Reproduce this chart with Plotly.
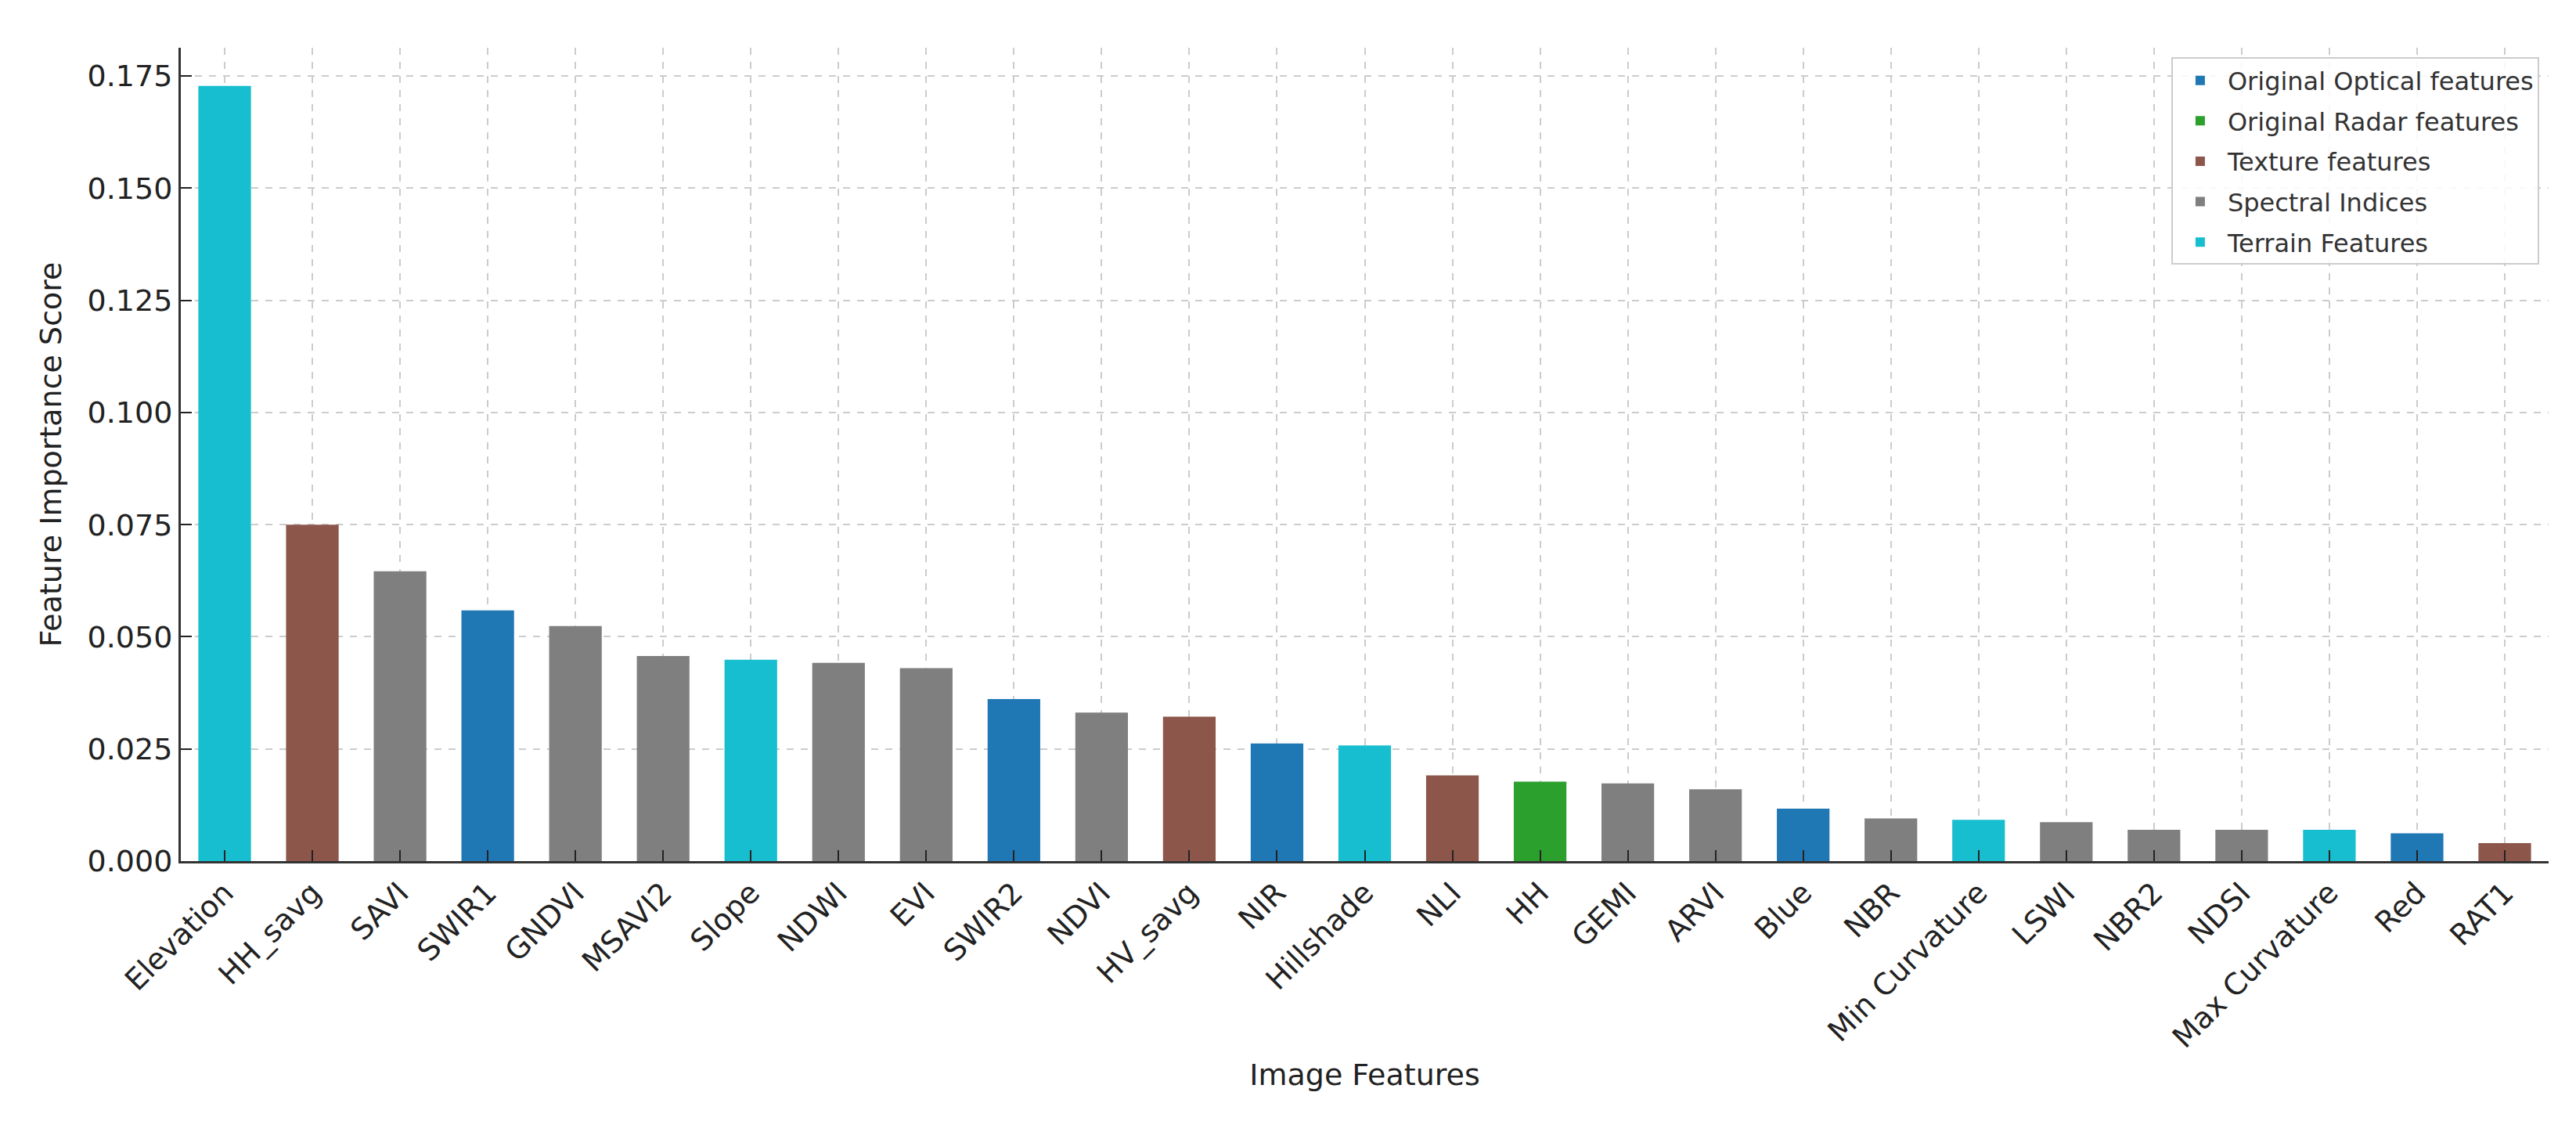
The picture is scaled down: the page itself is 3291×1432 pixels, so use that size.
import plotly.graph_objects as go

# feature importance values
features = ['Elevation', 'HH_savg', 'SAVI', 'SWIR1', 'GNDVI', 'MSAVI2', 'Slope', 'NDWI', 'EVI',
            'SWIR2', 'NDVI', 'HV_savg', 'NIR', 'Hillshade', 'NLI', 'HH', 'GEMI', 'ARVI', 'Blue',
            'NBR', 'Min Curvature', 'LSWI', 'NBR2', 'NDSI', 'Max Curvature', 'Red', 'RAT1']
importance = [0.1728, 0.0750, 0.0646, 0.0559, 0.0524, 0.0457, 0.0449, 0.0442, 0.0430,
              0.0361, 0.0331, 0.0322, 0.0262, 0.0258, 0.0191, 0.0177, 0.0173, 0.0160, 0.0117,
              0.0095, 0.0092, 0.0087, 0.0070, 0.0070, 0.0070, 0.0062, 0.0040]
groups = ['Terrain Features', 'Texture features', 'Spectral Indices', 'Original Optical features',
          'Spectral Indices', 'Spectral Indices', 'Terrain Features', 'Spectral Indices',
          'Spectral Indices', 'Original Optical features', 'Spectral Indices', 'Texture features',
          'Original Optical features', 'Terrain Features', 'Texture features',
          'Original Radar features', 'Spectral Indices', 'Spectral Indices',
          'Original Optical features', 'Spectral Indices', 'Terrain Features', 'Spectral Indices',
          'Spectral Indices', 'Spectral Indices', 'Terrain Features', 'Original Optical features',
          'Texture features']

group_names = ['Original Optical features', 'Original Radar features', 'Texture features',
               'Spectral Indices', 'Terrain Features']
group_colors = ['#1f77b4', '#2ca02c', '#8c564b', '#7f7f7f', '#17becf']

FONT = 'DejaVu Sans'

fig = go.Figure()
for name, color in zip(group_names, group_colors):
    xs = [f for f, g in zip(features, groups) if g == name]
    ys = [v for v, g in zip(importance, groups) if g == name]
    # one legendgroup per trace so tracegroupgap spaces out the legend rows
    fig.add_trace(go.Bar(x=xs, y=ys, name=name, marker_color=color,
                         marker_line_width=0, width=0.6, legendgroup=name))

fig.update_layout(
    width=3291, height=1432,
    barmode='overlay',
    plot_bgcolor='white', paper_bgcolor='white',
    margin=dict(l=223, r=43, t=53, b=340),
    font=dict(family=FONT, size=38, color='#222222'),
    legend=dict(x=0.996, y=0.988, xanchor='right', yanchor='top',
                bgcolor='rgba(255,255,255,0.85)', bordercolor='#cccccc', borderwidth=2,
                font=dict(family=FONT, size=32, color='#333333'),
                itemwidth=60, tracegroupgap=7),
)

fig.update_xaxes(
    categoryorder='array', categoryarray=features,
    range=[-0.5, len(features) - 0.5],
    tickangle=-45, tickfont=dict(size=38),
    ticks='inside', ticklen=14, tickwidth=2, tickcolor='#222222',
    showline=True, linecolor='#333333', linewidth=3,
    showgrid=True, gridcolor='#cccccc', gridwidth=2, griddash='dash',
    title=dict(text='Image Features', font=dict(size=38), standoff=14),
)
fig.update_yaxes(
    range=[0, 0.1813],
    tickvals=[0, 0.025, 0.05, 0.075, 0.1, 0.125, 0.15, 0.175],
    tickformat='.3f', tickfont=dict(size=38),
    ticks='inside', ticklen=14, tickwidth=2, tickcolor='#222222',
    showline=True, linecolor='#333333', linewidth=3,
    showgrid=True, gridcolor='#cccccc', gridwidth=2, griddash='dash',
    zeroline=False,
    title=dict(text='Feature Importance Score', font=dict(size=38), standoff=22),
)

fig.write_html('out.html')
